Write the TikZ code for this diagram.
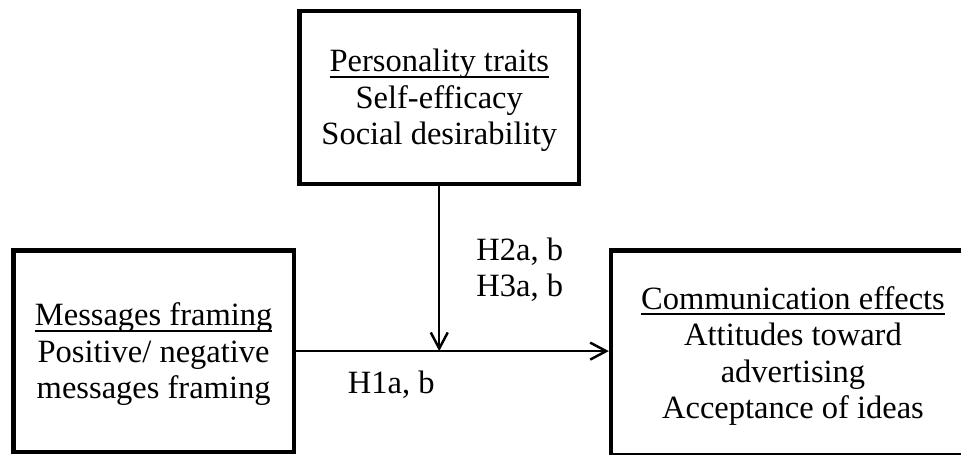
\documentclass[tikz,border=0pt]{standalone}
\usepackage{fontspec}
\setmainfont{Liberation Serif}
\usepackage{tikz}
\usetikzlibrary{arrows.meta,positioning}
% underline at a fixed depth below the baseline
\newcommand{\constructname}[1]{\setbox0\hbox{#1}\rule{0pt}{0.9em}\rlap{\rule[-0.18em]{\wd0}{0.06em}}\box0}

\begin{document}
\begin{tikzpicture}[font=\fontsize{18.5}{20.8}\selectfont,
		construct/.style={draw, line width=2.5pt, inner sep=0pt, align=center},
		hyp/.style={inner sep=0pt, align=left},
		path/.style={line width=1.4pt, -{Straight Barb[length=0.32cm, width=0.34cm]}}]
				\useasboundingbox (0,0) rectangle (19.22,9.08);
				\clip (0,0) rectangle (19.22,9.08);
				\node[construct, minimum width=5.59cm, minimum height=3.46cm] (traits) at (8.785,7.134) {\constructname{Personality traits}\\Self-efficacy\\Social desirability};
				\node[construct, minimum width=5.606cm, minimum height=4.024cm] (framing) at (3.073,2.058) {\constructname{Messages framing}\\Positive/ negative\\messages framing};
				\node[construct, minimum width=7.28cm, minimum height=4.09cm] (effects) at (15.86,2.025) {\constructname{Communication effects}\\Attitudes toward\\advertising\\Acceptance of ideas};
				\draw [path] (framing.east) -- (framing.east -| effects.west);
				\draw [path] (traits.south) -- (traits.south |- framing.east);
				\node[hyp, anchor=west] (h23) at (9.52,3.69) {H2a, b\\H3a, b};
				\node[hyp, anchor=base west] (h1) at (6.95,1.22) {H1a, b};

\end{tikzpicture}
\end{document}
